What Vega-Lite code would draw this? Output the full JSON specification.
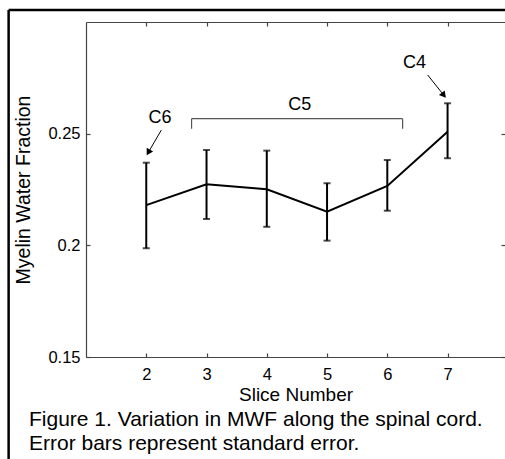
{
  "$schema": "https://vega.github.io/schema/vega-lite/v6.json",
  "width": 419,
  "height": 335,
  "autosize": "none",
  "padding": {"left": 86, "top": 22, "right": 0, "bottom": 102},
  "background": "white",
  "title": {
    "text": ["Figure 1. Variation in MWF along the spinal cord.", "Error bars represent standard error."],
    "orient": "bottom", "anchor": "start", "frame": "group", "dx": -57, "offset": -52,
    "fontSize": 21, "font": "Liberation Sans", "fontWeight": "normal", "color": "black", "lineHeight": 24
  },
  "datasets": {
    "main": [
      {"slice": 2, "mwf": 0.218, "lo": 0.1987, "hi": 0.237},
      {"slice": 3, "mwf": 0.2273, "lo": 0.2118, "hi": 0.2427},
      {"slice": 4, "mwf": 0.2251, "lo": 0.2083, "hi": 0.2424},
      {"slice": 5, "mwf": 0.2151, "lo": 0.2021, "hi": 0.2278},
      {"slice": 6, "mwf": 0.2266, "lo": 0.2155, "hi": 0.2382},
      {"slice": 7, "mwf": 0.2509, "lo": 0.239, "hi": 0.2636}
    ],
    "labels": [
      {"label": "C6", "x": 2.23, "y": 0.2546},
      {"label": "C5", "x": 4.545, "y": 0.2606},
      {"label": "C4", "x": 6.453, "y": 0.2794}
    ],
    "bracket": [
      {"x": 2.752, "x2": 6.254, "y": 0.2567, "y2": 0.2567},
      {"x": 2.752, "x2": 2.752, "y": 0.2567, "y2": 0.2522},
      {"x": 6.254, "x2": 6.254, "y": 0.2567, "y2": 0.2522}
    ],
    "arrows": [
      {"label": "C6", "x": 2.25, "y": 0.2516, "x2": 2.034, "y2": 0.2416},
      {"label": "C4", "x": 6.669, "y": 0.2763, "x2": 6.938, "y2": 0.2672}
    ],
    "frame": [
      {"x": -0.284, "x2": -0.284, "y": 0.104, "y2": 0.3054},
      {"x": -0.284, "x2": 7.953, "y": 0.3054, "y2": 0.3054}
    ]
  },
  "layer": [
    {
      "data": {"name": "main"},
      "mark": {"type": "line", "color": "black", "strokeWidth": 2},
      "encoding": {
        "x": {"field": "slice", "type": "quantitative", "scale": {"domain": [1, 7.953], "nice": false, "zero": false},
          "axis": {"orient": "bottom", "values": [2, 3, 4, 5, 6, 7], "title": "Slice Number", "format": "d"}},
        "y": {"field": "mwf", "type": "quantitative", "scale": {"domain": [0.15, 0.3], "nice": false, "zero": false},
          "axis": {"orient": "left", "values": [0.15, 0.2, 0.25], "title": "Myelin Water Fraction", "labelExpr": "datum.value == 0.2 ? '0.2' : format(datum.value, '.2f')", "titlePadding": 14}}
      }
    },
    {
      "data": {"name": "main"},
      "mark": {"type": "point", "opacity": 0},
      "encoding": {
        "x": {"field": "slice", "type": "quantitative", "scale": {"domain": [1, 7.953], "nice": false, "zero": false},
          "axis": {"orient": "top", "values": [2, 3, 4, 5, 6, 7], "title": null, "labels": false}},
        "y": {"field": "mwf", "type": "quantitative", "scale": {"domain": [0.15, 0.3], "nice": false, "zero": false},
          "axis": {"orient": "right", "values": [0.15, 0.2, 0.25], "title": null, "labels": false, "domain": false}}
      }
    },
    {
      "data": {"name": "main"},
      "mark": {"type": "rule", "color": "black", "strokeWidth": 2},
      "encoding": {
        "x": {"field": "slice", "type": "quantitative", "scale": {"domain": [1, 7.953], "nice": false, "zero": false}, "axis": null},
        "y": {"field": "lo", "type": "quantitative", "scale": {"domain": [0.15, 0.3], "nice": false, "zero": false}, "axis": null},
        "y2": {"field": "hi"}
      }
    },
    {
      "data": {"name": "main"},
      "mark": {"type": "tick", "orient": "horizontal", "color": "black", "size": 7, "thickness": 2},
      "encoding": {
        "x": {"field": "slice", "type": "quantitative", "scale": {"domain": [1, 7.953], "nice": false, "zero": false}, "axis": null},
        "y": {"field": "lo", "type": "quantitative", "scale": {"domain": [0.15, 0.3], "nice": false, "zero": false}, "axis": null}
      }
    },
    {
      "data": {"name": "main"},
      "mark": {"type": "tick", "orient": "horizontal", "color": "black", "size": 7, "thickness": 2},
      "encoding": {
        "x": {"field": "slice", "type": "quantitative", "scale": {"domain": [1, 7.953], "nice": false, "zero": false}, "axis": null},
        "y": {"field": "hi", "type": "quantitative", "scale": {"domain": [0.15, 0.3], "nice": false, "zero": false}, "axis": null}
      }
    },
    {
      "data": {"name": "bracket"},
      "mark": {"type": "rule", "color": "#555555", "strokeWidth": 1.2},
      "encoding": {
        "x": {"field": "x", "type": "quantitative", "scale": {"domain": [1, 7.953], "nice": false, "zero": false}, "axis": null},
        "x2": {"field": "x2"},
        "y": {"field": "y", "type": "quantitative", "scale": {"domain": [0.15, 0.3], "nice": false, "zero": false}, "axis": null},
        "y2": {"field": "y2"}
      }
    },
    {
      "data": {"name": "labels"},
      "mark": {"type": "text", "font": "Liberation Sans", "fontSize": 18, "color": "black", "align": "center", "baseline": "alphabetic"},
      "encoding": {
        "x": {"field": "x", "type": "quantitative", "scale": {"domain": [1, 7.953], "nice": false, "zero": false}, "axis": null},
        "y": {"field": "y", "type": "quantitative", "scale": {"domain": [0.15, 0.3], "nice": false, "zero": false}, "axis": null},
        "text": {"field": "label"}
      }
    },
    {
      "data": {"name": "arrows"},
      "mark": {"type": "rule", "color": "black", "strokeWidth": 1},
      "encoding": {
        "x": {"field": "x", "type": "quantitative", "scale": {"domain": [1, 7.953], "nice": false, "zero": false}, "axis": null},
        "x2": {"field": "x2"},
        "y": {"field": "y", "type": "quantitative", "scale": {"domain": [0.15, 0.3], "nice": false, "zero": false}, "axis": null},
        "y2": {"field": "y2"}
      }
    },
    {
      "data": {"name": "arrows"},
      "transform": [{"filter": "datum.label == 'C6'"}],
      "mark": {"type": "point", "shape": "triangle-up", "filled": true, "color": "black", "opacity": 1, "size": 55, "angle": 210},
      "encoding": {
        "x": {"field": "x2", "type": "quantitative", "scale": {"domain": [1, 7.953], "nice": false, "zero": false}, "axis": null},
        "y": {"field": "y2", "type": "quantitative", "scale": {"domain": [0.15, 0.3], "nice": false, "zero": false}, "axis": null}
      }
    },
    {
      "data": {"name": "arrows"},
      "transform": [{"filter": "datum.label == 'C4'"}],
      "mark": {"type": "point", "shape": "triangle-up", "filled": true, "color": "black", "opacity": 1, "size": 55, "angle": 141},
      "encoding": {
        "x": {"field": "x2", "type": "quantitative", "scale": {"domain": [1, 7.953], "nice": false, "zero": false}, "axis": null},
        "y": {"field": "y2", "type": "quantitative", "scale": {"domain": [0.15, 0.3], "nice": false, "zero": false}, "axis": null}
      }
    },
    {
      "data": {"name": "frame"},
      "mark": {"type": "rule", "color": "black", "strokeWidth": 2.5},
      "encoding": {
        "x": {"field": "x", "type": "quantitative", "scale": {"domain": [1, 7.953], "nice": false, "zero": false}, "axis": null},
        "x2": {"field": "x2"},
        "y": {"field": "y", "type": "quantitative", "scale": {"domain": [0.15, 0.3], "nice": false, "zero": false}, "axis": null},
        "y2": {"field": "y2"}
      }
    }
  ],
  "resolve": {"axis": {"x": "independent", "y": "independent"}},
  "config": {
    "view": {"stroke": null},
    "axis": {
      "domain": true, "domainColor": "#444444", "domainWidth": 1.2, "grid": false,
      "tickSize": -4, "tickColor": "#444444", "tickWidth": 1.2,
      "labelFont": "Liberation Sans", "labelFontSize": 16.5, "labelColor": "black",
      "titleFont": "Liberation Sans", "titleFontWeight": "normal", "titleColor": "black"
    },
    "axisBottom": {"labelPadding": 13, "titleFontSize": 19, "titlePadding": 3},
    "axisLeft": {"labelPadding": 10, "titleFontSize": 19.5},
    "axisTop": {"labelPadding": 14},
    "axisRight": {"labelPadding": 10}
  }
}
